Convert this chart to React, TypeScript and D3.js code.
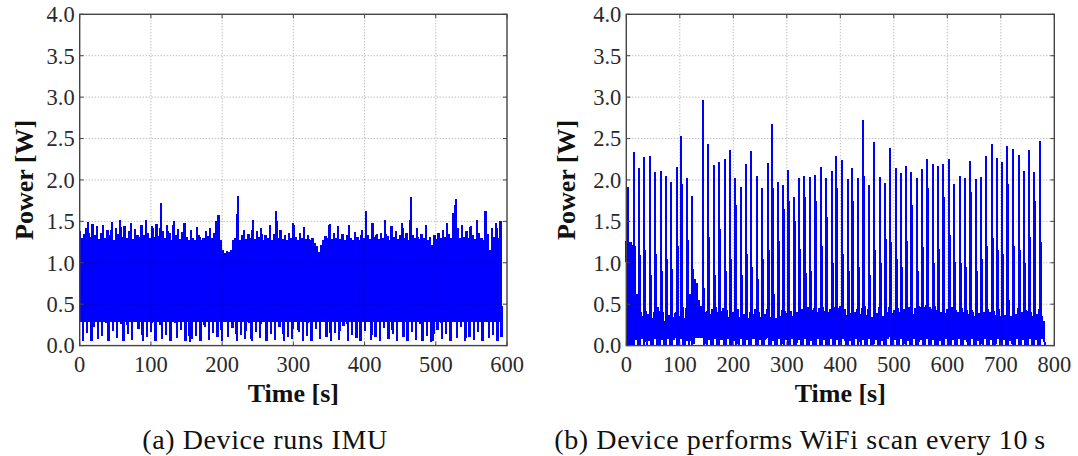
import React from 'react';
import * as d3 from 'd3';

// ---------- shared ticks ----------
const yTicks = [0, 0.5, 1.0, 1.5, 2.0, 2.5, 3.0, 3.5, 4.0];
const imuXTicks = [0, 100, 200, 300, 400, 500, 600];
const wifiXTicks = [0, 100, 200, 300, 400, 500, 600, 700, 800];

// ---------- (a) IMU: per-3 s upper / lower excursions [W] ----------
const imuStep = 3;
const imuHi = [
  1.38, 1.30, 1.35, 1.42, 1.49, 1.31, 1.47, 1.33, 1.44, 1.29,
  1.36, 1.46, 1.30, 1.40, 1.33, 1.49, 1.28, 1.42, 1.35, 1.52,
  1.31, 1.44, 1.30, 1.38, 1.48, 1.29, 1.41, 1.34, 1.31, 1.45,
  1.33, 1.52, 1.36, 1.30, 1.44, 1.31, 1.47, 1.32, 1.72, 1.38,
  1.30, 1.45, 1.36, 1.28, 1.50, 1.34, 1.41, 1.29, 1.37, 1.48,
  1.31, 1.27, 1.40, 1.30, 1.28, 1.43, 1.33, 1.27, 1.30, 1.38,
  1.32, 1.42, 1.30, 1.36, 1.50, 1.58, 1.28, 1.15, 1.12, 1.14,
  1.13, 1.15, 1.27, 1.30, 1.81, 1.28, 1.33, 1.40, 1.29, 1.35,
  1.30, 1.52, 1.29, 1.38, 1.31, 1.42, 1.27, 1.33, 1.30, 1.45,
  1.28, 1.35, 1.62, 1.30, 1.40, 1.29, 1.33, 1.27, 1.36, 1.30,
  1.48, 1.31, 1.28, 1.36, 1.30, 1.43, 1.29, 1.33, 1.27, 1.30,
  1.24, 1.20, 1.13, 1.22, 1.28, 1.32, 1.30, 1.47, 1.29, 1.36,
  1.30, 1.44, 1.29, 1.35, 1.28, 1.33, 1.46, 1.30, 1.27, 1.37,
  1.31, 1.28, 1.40, 1.30, 1.62, 1.33, 1.29, 1.48, 1.31, 1.35,
  1.29, 1.36, 1.30, 1.52, 1.32, 1.28, 1.44, 1.31, 1.38, 1.29,
  1.33, 1.48, 1.30, 1.36, 1.28, 1.79, 1.34, 1.30, 1.42, 1.29,
  1.35, 1.30, 1.45, 1.28, 1.31, 1.22, 1.33, 1.29, 1.36, 1.30,
  1.40, 1.31, 1.48, 1.35, 1.30, 1.60, 1.77, 1.42, 1.30, 1.46,
  1.31, 1.38, 1.30, 1.44, 1.33, 1.29, 1.52, 1.36, 1.30, 1.28,
  1.62, 1.35, 1.15, 1.42, 1.31, 1.48, 1.30, 1.50,
];
const imuLo = [
  0.28, 0.06, 0.28, 0.15, 0.28, 0.05, 0.22, 0.28, 0.08, 0.28,
  0.12, 0.28, 0.27, 0.05, 0.28, 0.18, 0.28, 0.09, 0.28, 0.26,
  0.06, 0.28, 0.14, 0.28, 0.07, 0.28, 0.28, 0.20, 0.28, 0.05,
  0.28, 0.10, 0.28, 0.16, 0.28, 0.06, 0.28, 0.25, 0.08, 0.28,
  0.13, 0.28, 0.05, 0.28, 0.27, 0.09, 0.28, 0.19, 0.28, 0.06,
  0.28, 0.04, 0.08, 0.28, 0.12, 0.28, 0.06, 0.28, 0.22, 0.28,
  0.07, 0.28, 0.15, 0.28, 0.10, 0.28, 0.05, 0.28, 0.28, 0.11,
  0.28, 0.21, 0.28, 0.06, 0.28, 0.13, 0.28, 0.08, 0.28, 0.27,
  0.05, 0.28, 0.17, 0.28, 0.09, 0.28, 0.28, 0.06, 0.28, 0.14,
  0.28, 0.07, 0.28, 0.23, 0.28, 0.05, 0.28, 0.11, 0.28, 0.08,
  0.28, 0.28, 0.16, 0.28, 0.06, 0.28, 0.12, 0.28, 0.05, 0.28,
  0.20, 0.28, 0.08, 0.28, 0.28, 0.10, 0.28, 0.05, 0.28, 0.15,
  0.28, 0.07, 0.28, 0.24, 0.28, 0.06, 0.28, 0.13, 0.28, 0.09,
  0.28, 0.05, 0.28, 0.18, 0.28, 0.28, 0.07, 0.28, 0.11, 0.28,
  0.06, 0.28, 0.21, 0.28, 0.08, 0.28, 0.14, 0.28, 0.05, 0.28,
  0.28, 0.10, 0.28, 0.06, 0.28, 0.17, 0.28, 0.07, 0.28, 0.26,
  0.05, 0.28, 0.12, 0.28, 0.04, 0.06, 0.28, 0.19, 0.28, 0.08,
  0.28, 0.14, 0.28, 0.05, 0.28, 0.28, 0.09, 0.28, 0.22, 0.28,
  0.06, 0.28, 0.11, 0.28, 0.07, 0.28, 0.16, 0.28, 0.05, 0.28,
  0.28, 0.09, 0.28, 0.13, 0.28, 0.06, 0.28, 0.10,
];

// ---------- (b) WiFi scan every 10 s ----------
const scanTimes = [
  2.6, 13.8, 23.7, 33.0, 43.6, 53.6, 64.0, 73.6, 83.5, 94.0,
  102.8, 113.5, 122.0, 142.7, 152.7, 163.3, 173.3, 183.9, 193.2, 203.8,
  213.8, 223.7, 233.0, 243.7, 253.6, 264.3, 273.0, 283.6, 293.5, 302.8,
  314.0, 322.8, 333.0, 343.0, 353.0, 363.9, 373.8, 383.9, 392.5, 402.6,
  413.8, 422.4, 433.1, 443.0, 453.0, 463.0, 473.6, 483.6, 492.9, 503.6,
  512.9, 522.8, 532.7, 542.8, 552.7, 562.6, 572.7, 582.6, 592.5, 603.2,
  612.5, 623.2, 633.1, 643.0, 653.0, 663.0, 672.3, 683.0, 692.3, 702.2,
  712.2, 722.2, 733.5, 742.8, 752.7, 762.6, 772.7,
];
const scanPeaks = [
  1.91, 2.34, 2.14, 2.28, 2.29, 2.09, 2.11, 2.05, 1.98, 2.16,
  2.53, 2.02, 1.81, 2.96, 2.43, 2.18, 2.22, 2.25, 2.36, 2.02,
  1.92, 2.19, 2.35, 2.05, 1.90, 2.21, 2.68, 1.98, 1.94, 2.12,
  1.79, 2.02, 2.05, 2.04, 2.06, 2.16, 2.02, 2.11, 2.29, 2.24,
  2.01, 2.14, 2.02, 2.72, 1.94, 2.46, 2.04, 1.96, 2.38, 2.14,
  2.08, 2.17, 2.10, 2.02, 2.13, 2.25, 2.19, 2.17, 2.19, 2.25,
  1.95, 2.05, 2.02, 2.23, 2.01, 2.04, 2.29, 2.43, 2.27, 2.22,
  2.41, 2.37, 2.30, 2.11, 2.36, 2.10, 2.47,
];
const scanEcho = [
  1.75, 2.05, 1.85, 1.95, 1.70, 1.80, 1.65, 1.85, 1.60, 1.90,
  1.95, 1.70, 1.40, 1.45, 1.90, 1.75, 1.85, 1.60, 1.80, 1.70,
  1.55, 1.85, 1.75, 1.60, 1.70, 1.80, 1.90, 1.55, 1.65, 1.75,
  1.50, 1.70, 1.80, 1.60, 1.75, 1.85, 1.55, 1.70, 1.90, 1.80,
  1.60, 1.75, 1.65, 2.05, 1.55, 1.85, 1.70, 1.60, 1.95, 1.80,
  1.65, 1.75, 1.70, 1.60, 1.80, 1.90, 1.70, 1.75, 1.80, 1.85,
  1.60, 1.70, 1.65, 1.85, 1.60, 1.75, 1.90, 2.00, 1.85, 1.80,
  1.95, 1.90, 1.85, 1.70, 1.90, 1.75, 1.95,
];
const scanShoulder = [
  1.25, 1.20, 0.95, 1.15, 0.85, 1.10, 0.90, 1.05, 0.80, 1.20,
  1.30, 0.95, 0.90, 0.70, 1.10, 0.85, 1.15, 0.90, 1.05, 1.20,
  0.85, 1.10, 0.95, 0.80, 1.05, 1.15, 1.25, 0.85, 0.95, 1.10,
  0.80, 1.00, 1.15, 0.90, 1.05, 1.20, 0.85, 1.00, 1.30, 1.10,
  0.90, 1.05, 0.95, 1.35, 0.85, 1.15, 1.00, 0.90, 1.25, 1.05,
  0.95, 1.10, 1.00, 0.90, 1.15, 1.25, 1.00, 1.05, 1.15, 1.20,
  0.90, 1.00, 0.95, 1.15, 0.90, 1.05, 1.20, 1.30, 1.15, 1.10,
  1.25, 1.20, 1.15, 1.00, 1.20, 1.05, 1.25,
];
// background (between scans), per-4 s upper / lower excursions [W]
const baseStep = 4;
const baseHi = [
  1.26, 1.24, 1.25, 1.22, 0.78, 0.62, 0.48, 0.40, 0.36, 0.42,
  0.38, 0.45, 0.33, 0.40, 0.36, 0.47, 0.35, 0.41, 0.30, 0.44,
  0.37, 0.46, 0.34, 0.40, 0.48, 0.36, 0.42, 0.33, 0.45, 0.50,
  0.62, 0.93, 0.80, 0.75, 0.55, 0.48, 0.44, 0.40, 0.46, 0.38,
  0.44, 0.36, 0.47, 0.41, 0.35, 0.45, 0.39, 0.43, 0.34, 0.46,
  0.40, 0.37, 0.44, 0.35, 0.42, 0.38, 0.46, 0.33, 0.41, 0.37,
  0.44, 0.36, 0.40, 0.34, 0.43, 0.38, 0.45, 0.35, 0.41, 0.37,
  0.33, 0.40, 0.36, 0.43, 0.34, 0.39, 0.31, 0.42, 0.36, 0.38,
  0.41, 0.35, 0.44, 0.37, 0.40, 0.46, 0.38, 0.43, 0.50, 0.41,
  0.45, 0.38, 0.47, 0.42, 0.36, 0.44, 0.39, 0.47, 0.41, 0.45,
  0.48, 0.40, 0.44, 0.37, 0.43, 0.39, 0.46, 0.41, 0.44, 0.38,
  0.45, 0.40, 0.37, 0.44, 0.41, 0.35, 0.43, 0.39, 0.46, 0.40,
  0.36, 0.44, 0.41, 0.47, 0.39, 0.43, 0.37, 0.45, 0.41, 0.38,
  0.44, 0.40, 0.47, 0.42, 0.38, 0.45, 0.41, 0.48, 0.43, 0.46,
  0.49, 0.42, 0.47, 0.44, 0.50, 0.43, 0.46, 0.41, 0.45, 0.39,
  0.44, 0.40, 0.46, 0.38, 0.43, 0.41, 0.37, 0.45, 0.40, 0.43,
  0.38, 0.44, 0.40, 0.36, 0.43, 0.39, 0.46, 0.41, 0.37, 0.44,
  0.40, 0.35, 0.42, 0.38, 0.44, 0.36, 0.41, 0.37, 0.43, 0.39,
  0.36, 0.42, 0.38, 0.45, 0.37, 0.41, 0.35, 0.43, 0.38, 0.40,
  0.36, 0.42, 0.38, 0.44, 0.37, 0.30,
];
const baseLo = [
  0, 0, 0, 0, 0.07, 0, 0, 0.08, 0, 0,
  0.06, 0, 0, 0.08, 0, 0, 0.07, 0, 0, 0.08,
  0, 0, 0.07, 0, 0, 0.08, 0, 0, 0.06, 0,
  0, 0.02, 0.09, 0.09, 0.09, 0.09, 0, 0, 0.07, 0,
  0, 0.08, 0, 0, 0.07, 0, 0, 0.08, 0, 0,
  0.06, 0, 0, 0.08, 0, 0, 0.07, 0, 0, 0.08,
  0, 0, 0.07, 0, 0, 0.08, 0, 0, 0.06, 0,
  0, 0.08, 0, 0, 0.07, 0, 0, 0.08, 0, 0,
  0.07, 0, 0, 0.08, 0, 0, 0.06, 0, 0, 0.08,
  0, 0, 0.07, 0, 0, 0.08, 0, 0, 0.07, 0,
  0, 0.08, 0, 0, 0.06, 0, 0, 0.08, 0, 0,
  0.07, 0, 0, 0.08, 0, 0, 0.07, 0, 0, 0.06,
  0, 0, 0.08, 0, 0, 0.07, 0, 0, 0.08, 0,
  0, 0.06, 0, 0, 0.08, 0, 0, 0.07, 0, 0,
  0.08, 0, 0, 0.07, 0, 0, 0.06, 0, 0, 0.08,
  0, 0, 0.07, 0, 0, 0.08, 0, 0, 0.07, 0,
  0, 0.08, 0, 0, 0.06, 0, 0, 0.08, 0, 0,
  0.07, 0, 0, 0.08, 0, 0, 0.07, 0, 0, 0.06,
  0, 0, 0.08, 0, 0, 0.07, 0, 0, 0.08, 0,
  0, 0.07, 0, 0, 0.08, 0,
];

const captionA = '(a) Device runs IMU';
const captionB = '(b) Device performs WiFi scan every 10\u2009s';

type Pt = [number, number];

function imuPoints(): Pt[] {
  const pts: Pt[] = [];
  imuHi.forEach((h, i) => {
    pts.push([i * imuStep, h]);
    pts.push([i * imuStep + imuStep / 2, imuLo[i]]);
  });
  return pts;
}

function wifiPoints(): Pt[] {
  const pts: Pt[] = [];
  baseHi.forEach((h, i) => {
    pts.push([i * baseStep, h]);
    pts.push([i * baseStep + baseStep / 2, baseLo[i]]);
  });
  scanTimes.forEach((t, k) => {
    pts.push([t - 0.2, 0.25]);
    pts.push([t, scanPeaks[k]]);
    pts.push([t + 0.4, 0.3]);
    pts.push([t + 0.8, scanEcho[k]]);
    pts.push([t + 1.2, 0.3]);
    pts.push([t + 1.8, scanShoulder[k]]);
    pts.push([t + 2.4, 0.2]);
  });
  pts.sort((a, b) => a[0] - b[0]);
  return pts;
}

const FONT = "'Liberation Serif', 'Times New Roman', serif";
const TOP = 14.3;
const BOTTOM = 345.6;

function Panel(props: {
  x0: number; x1: number; xMax: number; xTicks: number[];
  pts: Pt[]; caption: string; ylabelX: number; captionX: number; lw: number;
}) {
  const { x0, x1, xMax, xTicks, pts, caption, ylabelX, captionX, lw } = props;
  const x = d3.scaleLinear().domain([0, xMax]).range([x0, x1]);
  const y = d3.scaleLinear().domain([0, 4]).range([BOTTOM, TOP]);
  const line = d3.line<Pt>().x((d) => x(d[0])).y((d) => y(d[1]));
  const cx = (x0 + x1) / 2;
  const tl = 4;
  const axisCol = '#444';
  return (
    <g>
      <path d={line(pts) || ''} fill="none" stroke="#0000ff" strokeWidth={lw} strokeLinejoin="bevel"
        shapeRendering="crispEdges" />
      {/* grid */}
      {yTicks.slice(1, -1).map((v) => (
        <line key={'gy' + v} x1={x0} x2={x1} y1={y(v)} y2={y(v)} stroke="#000" strokeOpacity={0.45}
          strokeWidth={0.8} strokeDasharray="1,2" />
      ))}
      {xTicks.slice(1, -1).map((v) => (
        <line key={'gx' + v} x1={x(v)} x2={x(v)} y1={TOP} y2={BOTTOM} stroke="#000" strokeOpacity={0.45}
          strokeWidth={0.8} strokeDasharray="1,2" />
      ))}
      {/* ticks (inward, mirrored) */}
      {yTicks.map((v) => (
        <g key={'ty' + v}>
          <line x1={x0} x2={x0 + tl} y1={y(v)} y2={y(v)} stroke={axisCol} strokeWidth={1} />
          <line x1={x1} x2={x1 - tl} y1={y(v)} y2={y(v)} stroke={axisCol} strokeWidth={1} />
        </g>
      ))}
      {xTicks.map((v) => (
        <g key={'tx' + v}>
          <line x1={x(v)} x2={x(v)} y1={BOTTOM} y2={BOTTOM - tl} stroke={axisCol} strokeWidth={1} />
          <line x1={x(v)} x2={x(v)} y1={TOP} y2={TOP + tl} stroke={axisCol} strokeWidth={1} />
        </g>
      ))}
      <rect x={x0} y={TOP} width={x1 - x0} height={BOTTOM - TOP} fill="none" stroke={axisCol} strokeWidth={1.4} />
      {/* tick labels */}
      {yTicks.map((v) => (
        <text key={'ly' + v} x={x0 - 5} y={y(v)} dy="0.35em" textAnchor="end" fontFamily={FONT} fontSize={22.5} fill="#2a2a2a">
          {v.toFixed(1)}
        </text>
      ))}
      {xTicks.map((v) => (
        <text key={'lx' + v} x={x(v)} y={372} textAnchor="middle" fontFamily={FONT} fontSize={22.5} fill="#2a2a2a">
          {v}
        </text>
      ))}
      <text x={cx} y={402} textAnchor="middle" fontFamily={FONT} fontSize={26} fontWeight="bold" fill="#111">
        Time [s]
      </text>
      <text transform={`translate(${ylabelX},${(TOP + BOTTOM) / 2}) rotate(-90)`} textAnchor="middle"
        fontFamily={FONT} fontSize={26} fontWeight="bold" fill="#111">
        Power [W]
      </text>
      <text x={captionX} y={449} textAnchor="middle" fontFamily={FONT} fontSize={28} letterSpacing={0.6} fill="#111">
        {caption}
      </text>
    </g>
  );
}

export default function App() {
  return (
    <svg width={1078} height={456} style={{ position: 'absolute', left: 0, top: 0, background: '#fff' }}>
      <rect width={1078} height={456} fill="#fff" />
      <Panel x0={79.7} x1={507} xMax={600} xTicks={imuXTicks} pts={imuPoints()} caption={captionA}
        ylabelX={33} captionX={265} lw={2.3} />
      <Panel x0={626.3} x1={1054.3} xMax={800} xTicks={wifiXTicks} pts={wifiPoints()} caption={captionB}
        ylabelX={575} captionX={800} lw={2} />
    </svg>
  );
}
